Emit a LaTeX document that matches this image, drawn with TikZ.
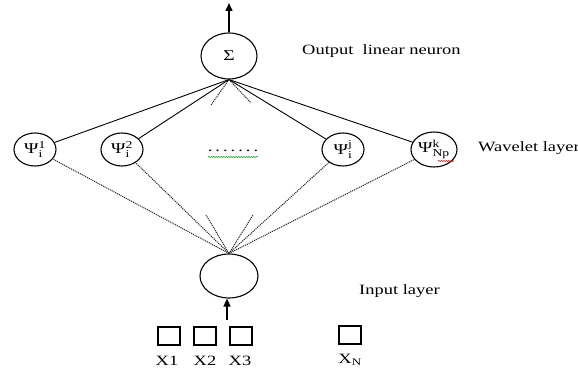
\documentclass[tikz,border=0pt]{standalone}
\usepackage{amsmath}
\usepackage{fontspec}
\setmainfont{Liberation Serif}[FakeStretch=1.3]
\usetikzlibrary{shapes.geometric,arrows.meta,decorations.pathmorphing}
\begin{document}
\begin{tikzpicture}[x=1pt,y=-1pt,
  neuron/.style={ellipse,draw,line width=1.1pt,inner sep=0pt,font=\fontsize{15}{17}\selectfont},
  wnode/.style={neuron,minimum width=42pt,minimum height=33pt},
  link/.style={line width=0.9pt},
  dots/.style={line width=1pt,black!85,dash pattern=on 1.1pt off 0.9pt},
  arr/.style={line width=1.4pt,-{Triangle[width=7pt,length=8pt]}},
  inbox/.style={draw,line width=1.1pt,minimum width=22pt,minimum height=18pt,inner sep=0pt},
  lbl/.style={font=\fontsize{14.2}{17}\selectfont,inner sep=0pt},
  wavy/.style={decorate,decoration={snake,amplitude=0.6pt,segment length=2.5pt},line width=0.5pt}
]
\useasboundingbox (0,0) rectangle (578,374);
% nodes
\node[neuron,minimum width=56pt,minimum height=46pt] (sig) at (229,56) {Σ};
\node[neuron,minimum width=58pt,minimum height=44pt] (inp) at (229,276) {};
\node[wnode] (p1) at (35,149.5) {Ψ$^{\text{1}}_{\text{i}}$};
\node[wnode] (p2) at (122,149.5) {Ψ$^{\text{2}}_{\text{i}}$};
\node[wnode] (pj) at (343,149.5) {Ψ$^{\text{j}}_{\text{i}}$};
\node[wnode,minimum width=46pt,minimum height=35pt] (pk) at (434,149.5) {Ψ$^{\text{k}}_{\text{Np}}$};
\node[lbl] (mid) at (233,151) {.\hspace{3pt}.\hspace{3pt}.\hspace{3pt}.\hspace{3pt}.\hspace{3pt}.\hspace{3pt}.};
% labels
\node[lbl,anchor=west] (lout) at (302,51) {Output~ linear neuron};
\node[lbl,anchor=west] (lwav) at (478,148) {Wavelet layer};
\node[lbl,anchor=west] (linp) at (359,291) {Input layer};
% input boxes
\node[inbox] (b1) at (169,336) {};
\node[inbox] (b2) at (205,336) {};
\node[inbox] (b3) at (241,336) {};
\node[inbox] (bn) at (350,335) {};
\node[lbl] (x1) at (167,361) {X1};
\node[lbl] (x2) at (205,361) {X2};
\node[lbl] (x3) at (240,361) {X3};
\node[lbl] (xn) at (350,360) {X$_{\text{N}}$};
% coordinates
\coordinate (top) at (229,3);
\coordinate (inarr) at (227,320);
\coordinate (sd1) at (211,105);
\coordinate (sd2) at (251,103);
\coordinate (id1) at (206,215);
\coordinate (id2) at (253,215);
\coordinate (w1a) at (208,157);
\coordinate (w1b) at (258,157);
\coordinate (w2a) at (438,161);
\coordinate (w2b) at (454,161);
% arrows
\draw[arr] (sig.north) -- (top);
\draw[arr] (inarr) -- (inarr |- inp.south);
% solid links
\foreach \n in {p1,p2,pj,pk} \draw[link] (sig.south) -- (\n);
\draw[dots] (sig.south) -- (sd1);
\draw[dots] (sig.south) -- (sd2);
% dotted links
\foreach \n in {p1,p2,pj,pk} \draw[dots] (inp.north) -- (\n);
\draw[dots] (inp.north) -- (id1);
\draw[dots] (inp.north) -- (id2);
% spell-check underlines
\draw[wavy,green!60!black] (w1a) -- (w1b);
\draw[wavy,red!80!black] (w2a) -- (w2b);
\end{tikzpicture}
\end{document}
